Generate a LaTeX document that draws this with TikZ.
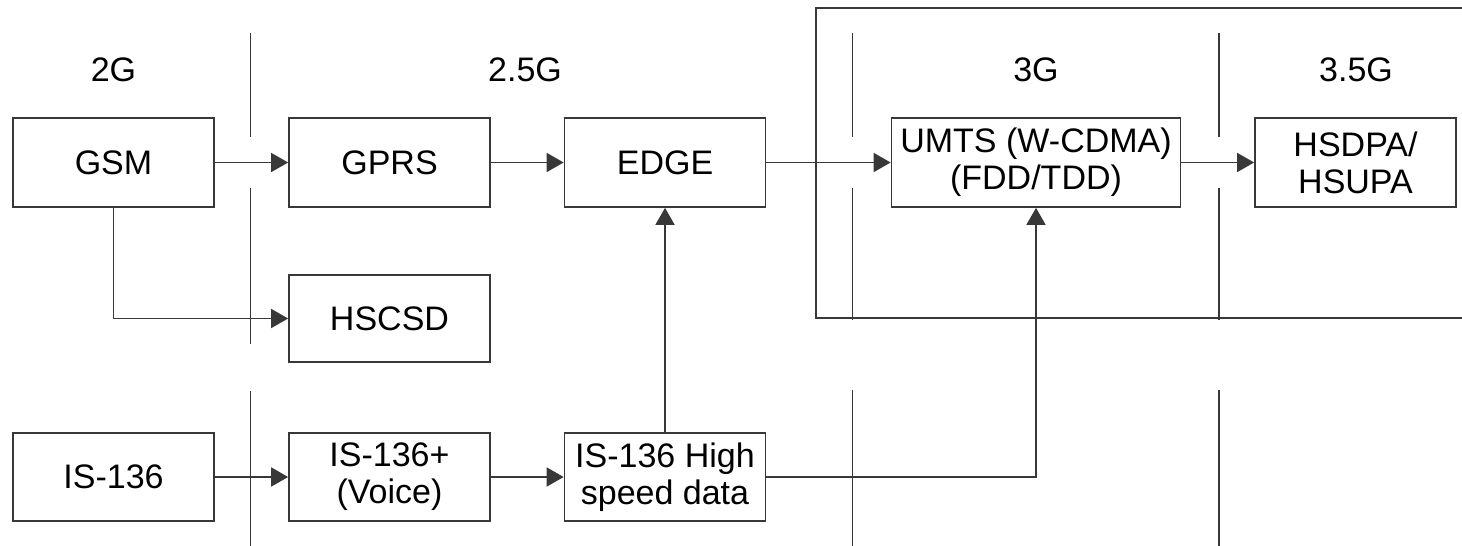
\documentclass[tikz,border=0pt]{standalone}
\usepackage{fontspec}
\setmainfont{Liberation Sans}
\usetikzlibrary{arrows.meta}
\tikzset{
  ln/.style={line width=1.7pt, draw=black!78},
  box/.style={ln, draw, minimum width=201pt, minimum height=89pt, inner sep=0pt, align=center, font=\fontsize{34}{37}\selectfont},
  arr/.style={ln, -{Triangle[length=17pt,width=19pt]}},
  gen/.style={font=\fontsize{34}{37}\selectfont, inner sep=0pt}
}
\begin{document}
\begin{tikzpicture}[x=1pt,y=-1pt]
\useasboundingbox (0,0) rectangle (1462,546);
% generation labels
\node[gen] (l2g) at (113.5,70) {2G};
\node[gen] (l25g) at (525,70) {2.5G};
\node[gen] (l3g) at (1036,70) {3G};
\node[gen] (l35g) at (1356,70) {3.5G};
% enclosing 3G frame (open to the right)
\draw[ln] (1462,8) -- (816,8) -- (816,318) -- (1462,318);
% dividers
\draw[ln] (250.5,33) -- (250.5,137) (250.5,188) -- (250.5,344) (250.5,391) -- (250.5,546);
\draw[ln] (852.5,33) -- (852.5,137) (852.5,188) -- (852.5,320) (852.5,390) -- (852.5,546);
\draw[ln] (1219,33) -- (1219,137) (1219,188) -- (1219,320) (1219,390) -- (1219,546);
% boxes
\node[box] (gsm) at (113.5,162.5) {GSM};
\node[box] (gprs) at (389.5,162.5) {GPRS};
\node[box] (edge) at (665,162.5) {EDGE};
\node[box, minimum width=289pt] (umts) at (1036,162.5) {UMTS (W-CDMA)\\(FDD/TDD)};
\node[box] (hsdpa) at (1355.5,162.5) {HSDPA/\\HSUPA};
\node[box, minimum height=87pt] (hscsd) at (389.5,318.5) {HSCSD};
\node[box, minimum height=88pt] (is) at (113.5,477) {IS-136};
\node[box, minimum height=88pt] (isp) at (389.5,477) {IS-136+\\(Voice)};
\node[box, minimum height=88pt] (ish) at (665,477) {IS-136 High\\speed data};
% connectors
\draw[arr] (gsm) -- (gprs);
\draw[arr] (gprs) -- (edge);
\draw[arr] (edge) -- (umts);
\draw[arr] (umts) -- (hsdpa);
\draw[arr] (gsm.south) |- (hscsd.west);
\draw[arr] (is) -- (isp);
\draw[arr] (isp) -- (ish);
\draw[arr] (ish.north) -- (edge.south);
\draw[arr] (ish.east) -| (umts.south);
\end{tikzpicture}
\end{document}
